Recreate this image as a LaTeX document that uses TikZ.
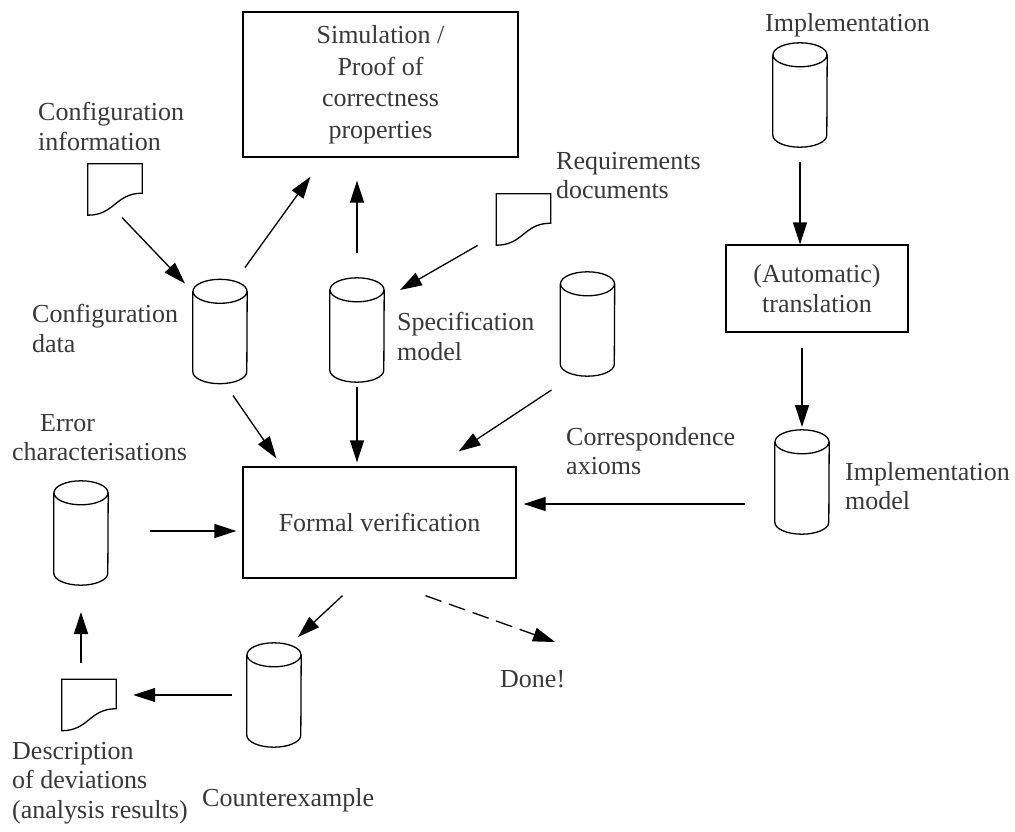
\documentclass[tikz,border=0pt]{standalone}
\usepackage{fontspec}
\setmainfont{Liberation Serif}
\usetikzlibrary{arrows.meta,calc}

\begin{document}
\begin{tikzpicture}[x=1pt, y=-1pt, >={Triangle[length=22pt,width=14pt]},
  every node/.style={align=center, font=\fontsize{26}{29.5}\selectfont, text=black!78, inner sep=0pt},
  box/.style={draw, line width=1.3pt},
  db/.style={minimum width=54pt, minimum height=104pt},
  docu/.style={minimum width=54pt, minimum height=51pt},
  lbl/.style={align=left, anchor=north west},
  flow/.style={->, line width=1.3pt}]
  \useasboundingbox (0,0) rectangle (1015,832);

  % boxes
  \node[box, minimum width=275pt, minimum height=145pt, font=\fontsize{26}{31.5}\selectfont] (sim) at (380.5,84.5) {Simulation /\\Proof of\\correctness\\properties};
  \node[box, minimum width=273pt, minimum height=111pt] (fv) at (379.5,522.5) {Formal verification};
  \node[box, minimum width=182pt, minimum height=87pt] (trans) at (817,288.5) {(Automatic)\\translation};

  % databases
  \node[db] (impl) at (800,95) {};
  \node[db] (cfgdata) at (220,331.5) {};
  \node[db] (spec) at (357,330) {};
  \node[db] (corr) at (587.5,324) {};
  \node[db] (implmodel) at (802,482) {};
  \node[db] (errchar) at (81,533) {};
  \node[db] (cex) at (274,695) {};
  \foreach \c in {impl,cfgdata,spec,corr,implmodel,errchar,cex}
    \draw[line width=1.3pt] ([yshift=-12pt]\c.north) ellipse [x radius=27pt, y radius=12pt]
      ([yshift=-12pt]\c.north west) -- ([yshift=12pt]\c.south west)
      arc [start angle=180, end angle=360, x radius=27pt, y radius=12pt] -- ([yshift=-12pt]\c.north east);

  % documents
  \node[docu] (cfginfo) at (115,189.5) {};
  \node[docu] (reqdoc) at (523.5,219.5) {};
  \node[docu] (desc) at (89,705) {};
  \foreach \d in {cfginfo,reqdoc,desc}
    \draw[line width=1.3pt] (\d.north west) -- (\d.north east) -- ([yshift=22pt]\d.south east)
      .. controls +(-27,0) and +(27,0) .. (\d.south west) -- cycle;

  % labels
  \node[lbl] (cfginfolbl) at (38,102) {Configuration\\information};
  \node[lbl] (cfgdatalbl) at (32,304) {Configuration\\data};
  \node[lbl] (reqdoclbl) at (556,152) {Requirements\\documents};
  \node[lbl] (speclbl) at (397,312) {Specification\\model};
  \node[lbl] (corrlbl) at (566,427) {Correspondence\\axioms};
  \node[lbl] (errcharlbl) at (12,414) {\hspace*{28pt}Error\\characterisations};
  \node[lbl] (impllbl) at (765,13) {Implementation};
  \node[lbl] (implmodellbl) at (845,462) {Implementation\\model};
  \node[lbl] (desclbl) at (12,742) {Description\\of deviations\\(analysis results)};
  \node[lbl] (cexlbl) at (202,788) {Counterexample};
  \node[lbl] (done) at (500,670) {Done!};

  % flows
  \draw[flow] ($(cfginfo)+(7,28)$) -- ($(cfgdata)+(-35,-48)$);
  \draw[flow] ($(cfgdata)+(25,-64)$) -- ($(sim.south)+(-70,19)$);
  \draw[flow] ($(spec)+(0,-77)$) -- ($(spec |- sim.south)+(0,23)$);
  \draw[flow] ($(reqdoc)+(-46,26)$) -- ($(spec)+(43,-40)$);
  \draw[flow] ($(cfgdata)+(13,64)$) -- ($(fv.north west)+(34,-8)$);
  \draw[flow] ($(spec)+(0,57)$) -- ($(spec |- fv.north)+(0,-4)$);
  \draw[flow] ($(corr)+(-36,66)$) -- ($(fv.north east)+(-58,-15)$);
  \draw[flow] ($(implmodel)+(-57,22)$) -- ($(fv.east |- implmodel)+(7,22)$);
  \draw[flow] ($(impl)+(0,67)$) -- (impl |- trans.north);
  \draw[flow] ($(implmodel |- trans.south)+(0,15)$) -- ($(implmodel)+(0,-55)$);
  \draw[flow] ($(errchar)+(69,-2)$) -- ($(fv.west |- errchar)+(-6,-2)$);
  \draw[flow] ($(fv.south)+(-37,17)$) -- ($(cex)+(24,-58)$);
  \draw[flow, dash pattern=on 17pt off 8pt] ($(fv.south)+(46,17)$) -- ($(done.north west)+(55,-28)$);
  \draw[flow] ($(cex)+(-42,0)$) -- ($(desc.east |- cex)+(17,0)$);
  \draw[flow] ($(errchar |- desc.north)+(0,-16)$) -- ($(errchar)+(0,79)$);
\end{tikzpicture}
\end{document}
